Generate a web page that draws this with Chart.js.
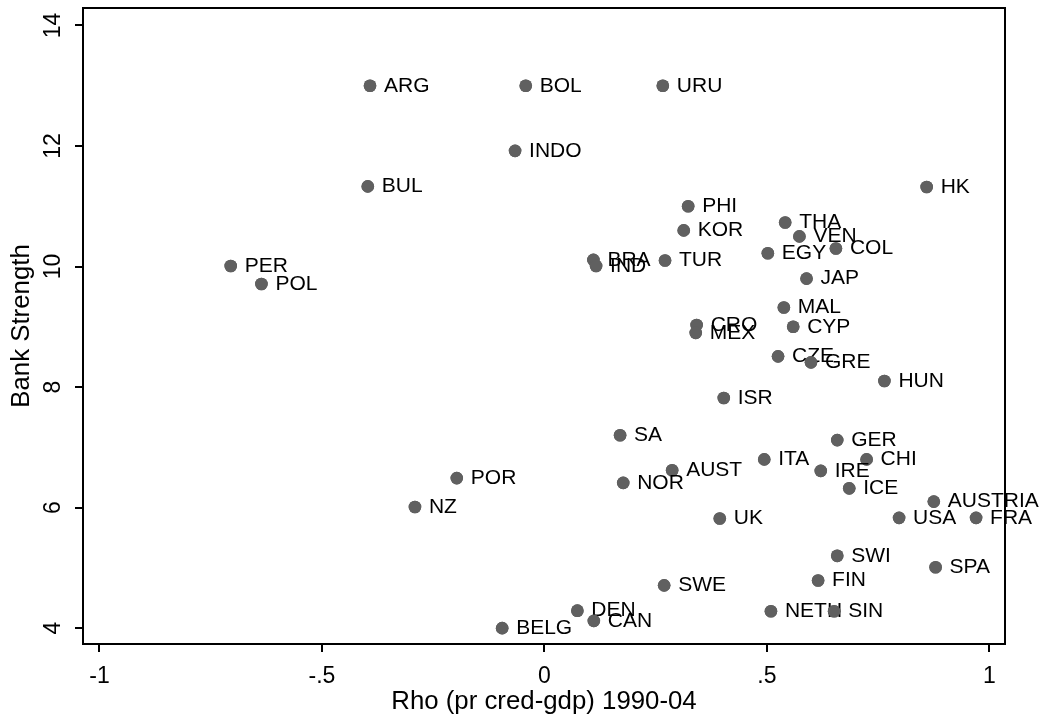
<!DOCTYPE html>
<html>
<head>
<meta charset="utf-8">
<script src="https://cdn.jsdelivr.net/npm/chart.js@4"></script>
<style>
  body { margin: 0; background: #fff; }
  canvas { display: block; }
</style>
</head>
<body>
<canvas id="grafico" width="1041" height="717"></canvas>
<script>
const ctx = document.getElementById('grafico');

// country codes, rho (x) and bank strength (y)
const paises = ['ARG', 'BOL', 'URU', 'INDO', 'BUL', 'HK', 'PHI', 'KOR', 'THA', 'VEN', 'COL', 'EGY',
    'BRA', 'IND', 'TUR', 'JAP', 'PER', 'POL', 'MAL', 'CRO', 'MEX', 'CYP', 'CZE', 'GRE', 'HUN', 'ISR',
    'SA', 'GER', 'CHI', 'ITA', 'IRE', 'ICE', 'AUST', 'NOR', 'POR', 'AUSTRIA', 'NZ', 'UK', 'USA', 'FRA',
    'SWI', 'SPA', 'FIN', 'SWE', 'DEN', 'CAN', 'NETH', 'SIN', 'BELG']
const rho = [-0.392, -0.042, 0.266, -0.066, -0.397, 0.859, 0.323, 0.313, 0.541, 0.573, 0.655, 0.502,
    0.110, 0.116, 0.271, 0.589, -0.705, -0.636, 0.538, 0.342, 0.340, 0.559, 0.525, 0.599, 0.764, 0.403,
    0.170, 0.658, 0.724, 0.494, 0.621, 0.685, 0.287, 0.177, -0.197, 0.875, -0.291, 0.394, 0.797, 0.970,
    0.658, 0.879, 0.615, 0.269, 0.074, 0.111, 0.509, 0.651, -0.095]
const forca = [13.0, 13.0, 13.0, 11.92, 11.33, 11.32, 11.0, 10.6, 10.73, 10.5, 10.3, 10.22,
    10.11, 10.01, 10.1, 9.8, 10.01, 9.71, 9.32, 9.03, 8.9, 9.0, 8.51, 8.41, 8.1, 7.82,
    7.2, 7.12, 6.8, 6.8, 6.61, 6.32, 6.62, 6.41, 6.49, 6.1, 6.01, 5.82, 5.83, 5.83,
    5.2, 5.01, 4.79, 4.71, 4.29, 4.12, 4.28, 4.28, 4.0]

const xTicks = [-1, -0.5, 0, 0.5, 1]
const xTickLabels = ['-1', '-.5', '0', '.5', '1']
const yTicks = [4, 6, 8, 10, 12, 14]
const yTickLabels = ['4', '6', '8', '10', '12', '14']

const fonte = '"Liberation Sans", Arial, sans-serif'
const corPonto = '#606060'

const pontos = rho.map((x, i) => ({ x: x, y: forca[i] }))

// each marker is redrawn with its label, in order, so later dots cover earlier labels
const rotulos = {
    id: 'rotulos',
    afterDatasetsDraw(chart) {
        const c = chart.ctx
        const meta = chart.getDatasetMeta(0)
        meta.data.forEach((ponto, i) => {
            ponto.draw(c, chart.chartArea)
            c.save()
            c.font = '21px ' + fonte
            c.fillStyle = '#000'
            c.textAlign = 'left'
            c.textBaseline = 'middle'
            c.fillText(paises[i], ponto.x + 14, ponto.y)
            c.restore()
        })
    }
}

const moldura = {
    id: 'moldura',
    afterDraw(chart) {
        const a = chart.chartArea
        const c = chart.ctx
        c.save()
        c.strokeStyle = '#000'
        c.lineWidth = 2
        c.strokeRect(a.left, a.top, a.right - a.left, a.bottom - a.top)
        c.restore()
    }
}

new Chart(ctx, {
    type: 'scatter',
    data: {
        datasets: [{
            data: pontos,
            backgroundColor: corPonto,
            borderColor: corPonto,
            borderWidth: 0,
            pointRadius: 6.3,
            pointHoverRadius: 6.3
        }]
    },
    options: {
        responsive: false,
        devicePixelRatio: 1,
        animation: false,
        events: [],
        layout: { padding: { top: 8, right: 36, left: 0, bottom: 0 } },
        plugins: {
            legend: { display: false },
            tooltip: { enabled: false }
        },
        scales: {
            x: {
                type: 'linear',
                min: -1.037,
                max: 1.035,
                afterBuildTicks: s => { s.ticks = xTicks.map(v => ({ value: v })) },
                afterFit: s => { s.height = 73; s.paddingLeft = 0; s.paddingRight = 0 },
                border: { display: false },
                grid: { drawOnChartArea: false, drawTicks: true, tickLength: 8, color: '#000', lineWidth: 2 },
                ticks: {
                    autoSkip: false,
                    maxRotation: 0,
                    padding: 11,
                    color: '#000',
                    font: { family: fonte, size: 23 },
                    callback: (v, i) => xTickLabels[i]
                },
                title: {
                    display: true,
                    text: 'Rho (pr cred-gdp) 1990-04',
                    color: '#000',
                    font: { family: fonte, size: 25.8, lineHeight: 0.8 },
                    padding: { top: 0, bottom: 5 }
                }
            },
            y: {
                type: 'linear',
                min: 3.737,
                max: 14.29,
                afterBuildTicks: s => { s.ticks = yTicks.map(v => ({ value: v })) },
                afterFit: s => { s.width = 83; s.paddingTop = 0; s.paddingBottom = 0 },
                border: { display: false },
                grid: { drawOnChartArea: false, drawTicks: true, tickLength: 8, color: '#000', lineWidth: 2 },
                ticks: {
                    autoSkip: false,
                    minRotation: 90,
                    maxRotation: 90,
                    crossAlign: 'center',
                    padding: 8.5,
                    color: '#000',
                    font: { family: fonte, size: 23 },
                    callback: (v, i) => yTickLabels[i]
                },
                title: {
                    display: true,
                    text: 'Bank Strength',
                    color: '#000',
                    font: { family: fonte, size: 25.8, lineHeight: 0.8 },
                    padding: { top: 12, bottom: 0 }
                }
            }
        }
    },
    plugins: [rotulos, moldura]
});
</script>
</body>
</html>
